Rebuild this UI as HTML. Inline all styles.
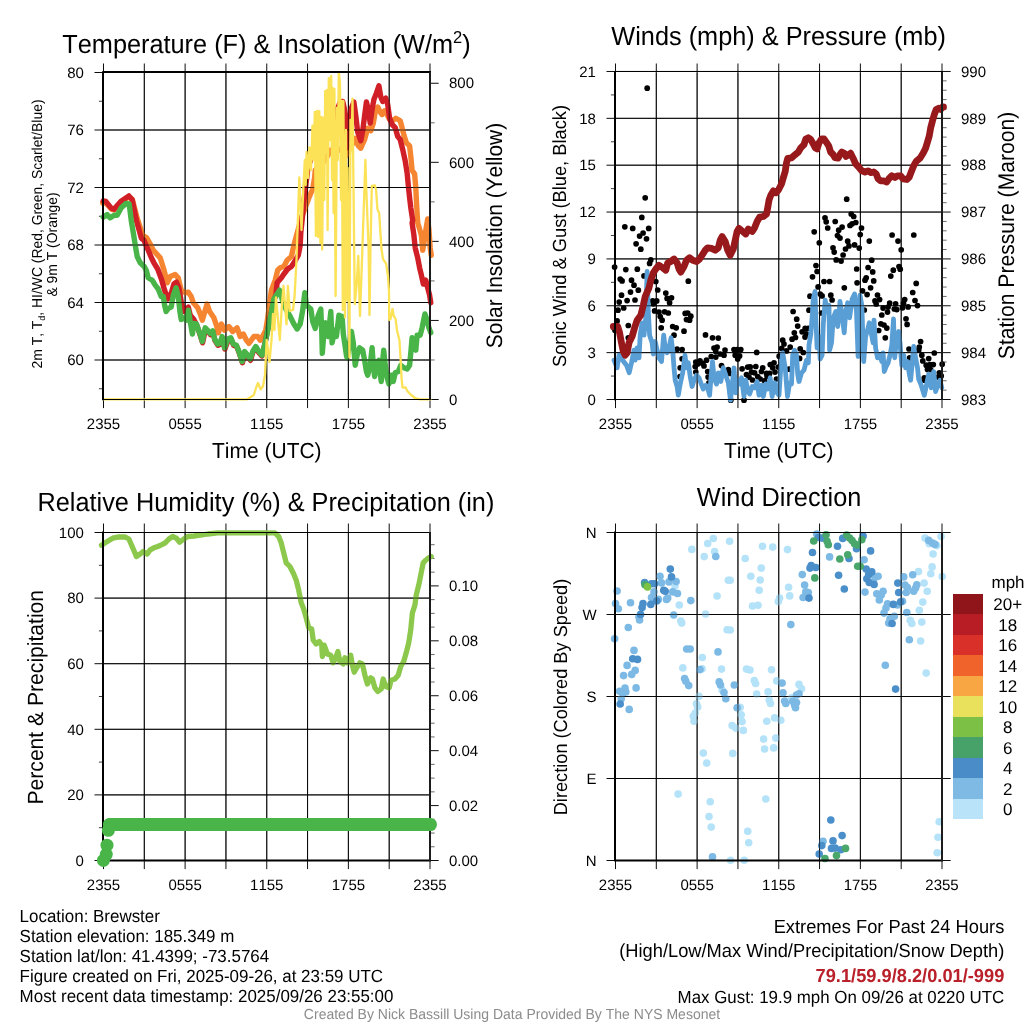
<!DOCTYPE html>
<html lang="en"><head><meta charset="utf-8"><title>Brewster Meteogram</title>
<style>
html,body{margin:0;padding:0;background:#fff}
body{width:1024px;height:1024px;overflow:hidden}
svg{display:block}
text{font-family:"Liberation Sans", sans-serif;fill:#000;font-kerning:none;text-rendering:geometricPrecision}
.grid{stroke:#000;stroke-width:.95;fill:none}
.tick{stroke:#000;stroke-width:.95;fill:none}
.mtick{stroke:#000;stroke-width:.75;fill:none}
.rtick{stroke:#000;stroke-width:.7;fill:none;opacity:.85}
.fr{stroke:#000;fill:none}
.ln{fill:none;stroke-linejoin:round;stroke-linecap:round}
</style></head><body>
<svg width="1024" height="1024" viewBox="0 0 1024 1024">
<rect width="1024" height="1024" fill="#fff"/>
<g id="p1">
<path class="grid" d="M144.31 72.50V399.50M185.12 72.50V399.50M225.94 72.50V399.50M266.75 72.50V399.50M307.56 72.50V399.50M348.38 72.50V399.50M389.19 72.50V399.50M103.50 130.00H430.00M103.50 187.50H430.00M103.50 245.00H430.00M103.50 302.50H430.00M103.50 360.00H430.00"/>
<path class="tick" d="M103.50 72.50v-9M103.50 399.50v8.6M144.31 72.50v-9M144.31 399.50v8.6M185.12 72.50v-9M185.12 399.50v8.6M225.94 72.50v-9M225.94 399.50v8.6M266.75 72.50v-9M266.75 399.50v8.6M307.56 72.50v-9M307.56 399.50v8.6M348.38 72.50v-9M348.38 399.50v8.6M389.19 72.50v-9M389.19 399.50v8.6M430.00 72.50v-9M430.00 399.50v8.6M103.50 72.50h-9M103.50 130.00h-9M103.50 187.50h-9M103.50 245.00h-9M103.50 302.50h-9M103.50 360.00h-9M430.00 83.26h8.7M430.00 162.32h8.7M430.00 241.38h8.7M430.00 320.44h8.7M430.00 399.50h8.7"/>
<path class="mtick" d="M103.50 101.25h-4.6M103.50 158.75h-4.6M103.50 216.25h-4.6M103.50 273.75h-4.6M103.50 331.25h-4.6M103.50 388.75h-4.6"/>
<path class="rtick" d="M430.00 359.97h4.6M430.00 280.91h4.6M430.00 201.85h4.6M430.00 122.79h4.6"/>
<path class="ln" d="M102.7 203.0L105.8 203.0L111.5 209.2L114.0 210.0L120.8 202.1L128.9 196.8L132.4 199.6L137.2 218.4L142.7 235.2L146.7 237.8L150.2 244.0L153.2 250.2L160.2 257.8L163.7 269.0L167.2 282.8L170.2 276.5L175.2 274.6L178.2 277.8L181.2 290.2L185.2 292.8L188.2 292.1L191.2 296.5L193.3 302.8L197.7 307.8L200.2 314.0L202.3 320.2L205.2 310.2L207.1 304.0L209.6 311.5L213.9 317.8L216.4 325.2L218.3 332.8L221.4 324.0L224.6 330.2L228.9 326.5L232.7 331.5L237.1 327.8L240.2 336.5L243.3 334.0L246.4 340.2L248.9 343.4L253.9 336.5L257.7 336.5L260.2 340.2L263.3 335.2L265.8 330.2L267.7 317.8L271.4 290.2L275.2 280.2L277.7 270.2L280.2 267.8L283.9 266.5L287.1 260.2L291.4 256.5L293.3 247.8L295.2 240.2L298.3 229.0L301.4 217.8L305.2 207.8L308.9 197.8L312.7 189.0L314.6 177.8L315.2 170.2L318.0 168.0L321.0 165.0L325.0 160.0L328.0 155.0L331.0 150.0L334.0 150.0L336.0 152.0L340.0 149.0L343.0 151.0L345.8 155.8L350.2 148.2L355.2 138.2L358.3 145.8L360.8 148.2L364.6 139.5L367.7 128.2L370.8 130.8L373.3 123.2L375.2 112.0L377.7 107.0L380.2 112.0L382.1 114.5L384.6 110.8L387.1 114.5L389.6 119.5L392.7 120.8L395.8 118.2L400.2 120.8L402.1 127.8L403.9 135.2L406.4 142.8L409.6 145.9L410.8 156.5L412.1 170.2L414.6 174.0L415.8 187.8L416.4 200.2L417.1 212.8L417.7 222.8L419.6 229.0L421.4 235.2L422.7 250.2L424.6 239.0L426.2 227.8L427.7 219.0L428.9 229.0L430.2 247.8L431.2 255.2" stroke="#f68532" stroke-width="5.4"/>
<path class="ln" d="M103.2 200.9L105.8 201.5L111.5 208.4L114.0 209.2L120.8 201.5L128.9 195.9L132.1 199.6L136.4 220.2L141.4 238.4L143.9 240.2L147.7 249.0L151.4 257.8L153.9 262.8L157.7 269.0L161.4 279.0L164.6 290.2L167.9 299.0L171.4 292.8L173.9 284.0L176.4 282.1L178.9 287.8L181.4 302.8L183.7 311.5L188.3 307.1L190.2 315.2L193.9 319.6L196.8 325.3L199.9 334.1L202.6 342.8L205.5 329.1L208.6 332.2L210.5 334.7L213.0 332.2L214.9 340.3L218.0 345.3L220.5 344.1L222.4 337.8L224.9 349.1L228.0 340.3L231.1 339.1L233.6 345.3L236.8 346.6L239.2 352.8L242.4 362.8L244.9 352.8L248.0 356.6L250.5 360.3L252.8 352.5L255.6 347.5L258.8 352.5L261.9 356.0L264.4 346.0L267.5 331.0L270.5 316.0L273.5 302.0L275.8 295.2L277.1 282.8L281.4 277.8L283.9 274.0L287.7 269.0L291.4 266.5L293.9 262.8L298.3 255.2L300.2 245.2L300.8 232.8L302.1 220.2L303.9 201.5L305.8 185.2L307.7 170.2L308.0 168.0L311.2 158.0L314.0 152.0L317.0 150.0L320.0 146.0L323.0 142.0L325.0 130.5L327.0 124.0L330.0 118.0L333.0 122.0L335.0 128.0L336.2 112.0L340.2 102.0L342.7 101.4L344.6 109.5L345.8 130.8L346.4 148.2L348.3 130.8L350.8 109.5L353.9 102.0L355.8 115.8L357.7 132.0L360.8 140.8L362.7 130.8L364.6 115.8L366.4 102.0L368.3 109.5L370.2 123.2L372.1 109.5L373.9 99.5L376.4 93.2L378.9 85.8L380.8 97.0L382.7 101.4L385.8 98.2L387.7 104.5L389.6 118.2L392.1 124.5L395.2 127.6L397.7 136.4L400.2 139.5L402.7 149.5L405.2 160.8L407.1 172.8L408.3 185.2L409.6 197.8L410.8 207.8L412.7 220.2L412.1 222.8L413.9 235.2L415.2 247.8L417.7 257.8L419.6 267.8L421.4 275.2L423.3 284.0L425.8 280.2L427.7 287.8L429.6 295.2L430.8 302.8" stroke="#d11f27" stroke-width="5.4"/>
<path class="ln" d="M103.2 217.1L107.2 214.6L110.2 217.8L114.2 215.2L117.2 215.2L121.2 207.8L126.2 203.4L129.2 204.0L131.2 220.2L133.7 235.2L135.7 247.8L137.2 256.5L140.2 262.8L144.2 266.5L146.2 270.2L148.2 277.8L152.2 280.2L155.2 285.2L158.2 289.0L161.2 296.5L163.3 296.5L164.6 305.2L166.1 311.5L168.3 308.4L171.2 307.1L173.3 295.2L176.1 287.8L178.3 296.5L179.9 311.5L181.2 319.6L183.9 317.8L186.4 320.2L188.3 310.2L190.2 321.5L192.4 334.0L193.9 323.4L196.4 324.0L199.6 332.8L202.3 341.5L205.2 327.8L208.3 330.9L210.2 333.4L212.7 330.9L214.6 339.0L217.7 344.0L220.2 342.8L222.1 336.5L224.6 347.8L227.7 339.0L230.8 337.8L233.3 344.0L236.4 345.2L238.9 351.5L242.1 361.5L244.6 351.5L247.7 355.2L250.2 359.0L252.7 351.5L255.8 346.5L258.9 351.5L262.1 355.2L264.6 345.2L267.7 330.2L270.8 315.2L273.9 299.0L279.6 290.2L282.7 301.5L286.4 310.2L290.2 316.5L293.9 324.0L297.1 329.0L300.2 324.0L302.7 310.2L304.8 292.8L306.4 305.2L310.8 309.0L312.7 321.5L315.2 328.4L318.3 315.2L320.8 309.0L321.7 330.2L322.3 353.4L323.9 332.8L325.8 322.8L328.3 336.5L330.8 311.5L332.1 342.8L334.6 330.2L336.4 336.5L338.9 315.2L342.1 316.5L343.3 334.0L345.2 346.5L346.4 355.2L347.1 357.8L350.2 340.2L351.4 331.5L353.3 342.8L355.2 365.2L357.1 355.2L359.6 347.8L362.7 350.2L364.6 360.2L366.4 371.5L367.7 375.2L370.2 365.2L372.1 347.8L373.3 365.2L374.6 376.5L377.1 365.2L378.9 360.2L381.2 381.5L382.7 360.2L383.7 350.2L385.2 365.2L387.1 377.8L388.9 384.0L391.4 375.2L393.3 381.5L395.2 372.8L398.3 371.5L400.8 365.2L403.9 367.8L407.1 369.0L409.6 365.2L410.8 352.8L412.1 337.8L413.9 342.8L415.8 350.2L417.1 335.2L420.2 335.2L422.1 327.8L424.9 314.0L427.1 320.2L428.9 327.8L430.8 332.8" stroke="#49b549" stroke-width="5.4"/>
<path class="grid" opacity=".7" d="M144.31 72.50V399.50M185.12 72.50V399.50M225.94 72.50V399.50M266.75 72.50V399.50M307.56 72.50V399.50M348.38 72.50V399.50M389.19 72.50V399.50M103.50 130.00H430.00M103.50 187.50H430.00M103.50 245.00H430.00M103.50 302.50H430.00M103.50 360.00H430.00"/>
<path class="ln" d="M103.3 399.3L247.0 399.3L250.0 397.5L253.8 395.0L256.2 387.5L258.0 383.0L260.6 389.4L263.0 386.2L265.0 375.0L266.7 340.0L269.5 362.0L271.5 340.0L273.0 314.0L274.4 330.0L276.0 297.5L279.8 340.0L281.9 305.0L283.5 286.0L286.5 324.4L287.9 286.0L289.8 311.0L293.0 310.0L294.6 296.0L296.5 260.0L299.3 177.5L301.5 230.0L303.5 185.0L304.8 160.0L305.7 185.0L306.6 152.0L308.0 178.0L309.4 147.5L311.0 170.0L312.5 125.6L313.6 160.0L314.8 112.0L315.9 236.0L317.0 111.0L318.2 237.0L319.3 111.0L320.4 243.0L321.6 117.0L322.2 249.5L323.4 118.0L324.3 200.0L325.2 91.0L326.3 150.0L327.0 90.0L327.6 230.0L328.8 78.0L330.0 140.0L331.2 76.0L332.0 180.0L332.6 88.0L333.6 213.0L334.4 89.0L335.6 296.0L337.0 108.0L337.8 160.0L338.8 72.5L340.0 83.0L341.0 200.0L341.8 101.0L342.8 310.0L343.4 101.0L345.0 317.5L346.0 130.0L347.0 300.0L347.6 168.0L349.4 357.5L350.5 120.0L351.5 150.0L352.5 98.6L354.8 304.0L356.6 285.0L358.3 256.0L360.0 316.0L362.4 248.0L365.4 160.0L366.1 184.0L368.6 248.0L369.5 315.0L370.5 248.0L371.8 186.0L374.9 185.5L376.1 190.0L377.4 209.0L379.2 213.4L381.4 248.0L383.0 259.2L386.1 263.6L388.0 276.0L389.0 291.8L389.2 320.0L390.6 318.8L392.5 308.8L393.8 316.2L395.6 318.8L396.9 330.0L399.4 340.0L400.6 358.8L401.5 377.5L402.5 387.5L405.6 387.5L407.5 391.2L411.2 395.0L415.0 398.0L420.0 399.4L430.3 399.4" stroke="#fbe256" stroke-width="2.3"/>
<path class="fr" stroke-width="2" d="M102.50 72.00H431.00"/>
<path class="fr" stroke-width="1.1" d="M103.50 399.50H430.00"/>
<path class="fr" stroke-width="2" style="stroke:#1c1c1c" d="M430.00 72.00V400.00"/>
<path class="fr" stroke-width="2" d="M103.00 71.50V400.30"/>
<text transform="translate(83.90 77.70) scale(1.0 1.0)" font-size="15.0" text-anchor="end">80</text>
<text transform="translate(83.90 135.20) scale(1.0 1.0)" font-size="15.0" text-anchor="end">76</text>
<text transform="translate(83.90 192.70) scale(1.0 1.0)" font-size="15.0" text-anchor="end">72</text>
<text transform="translate(83.90 250.20) scale(1.0 1.0)" font-size="15.0" text-anchor="end">68</text>
<text transform="translate(83.90 307.70) scale(1.0 1.0)" font-size="15.0" text-anchor="end">64</text>
<text transform="translate(83.90 365.20) scale(1.0 1.0)" font-size="15.0" text-anchor="end">60</text>
<text transform="translate(449.00 88.46) scale(1.0 1.0)" font-size="15.0">800</text>
<text transform="translate(449.00 167.52) scale(1.0 1.0)" font-size="15.0">600</text>
<text transform="translate(449.00 246.58) scale(1.0 1.0)" font-size="15.0">400</text>
<text transform="translate(449.00 325.64) scale(1.0 1.0)" font-size="15.0">200</text>
<text transform="translate(449.00 404.70) scale(1.0 1.0)" font-size="15.0">0</text>
<text transform="translate(103.50 429.40) scale(1.0 1.0)" font-size="15.0" text-anchor="middle">2355</text>
<text transform="translate(185.12 429.40) scale(1.0 1.0)" font-size="15.0" text-anchor="middle">0555</text>
<text transform="translate(266.75 429.40) scale(1.0 1.0)" font-size="15.0" text-anchor="middle">1155</text>
<text transform="translate(348.38 429.40) scale(1.0 1.0)" font-size="15.0" text-anchor="middle">1755</text>
<text transform="translate(430.00 429.40) scale(1.0 1.0)" font-size="15.0" text-anchor="middle">2355</text>
</g>
<g id="p2">
<path class="grid" d="M656.31 72.50V399.50M697.12 72.50V399.50M737.94 72.50V399.50M778.75 72.50V399.50M819.56 72.50V399.50M860.38 72.50V399.50M901.19 72.50V399.50M615.50 71.48H942.00M615.50 118.34H942.00M615.50 165.20H942.00M615.50 212.06H942.00M615.50 258.92H942.00M615.50 305.78H942.00M615.50 352.64H942.00"/>
<path class="tick" d="M615.50 72.50v-9M615.50 399.50v8.6M656.31 72.50v-9M656.31 399.50v8.6M697.12 72.50v-9M697.12 399.50v8.6M737.94 72.50v-9M737.94 399.50v8.6M778.75 72.50v-9M778.75 399.50v8.6M819.56 72.50v-9M819.56 399.50v8.6M860.38 72.50v-9M860.38 399.50v8.6M901.19 72.50v-9M901.19 399.50v8.6M942.00 72.50v-9M942.00 399.50v8.6M615.50 71.48h-9M615.50 118.34h-9M615.50 165.20h-9M615.50 212.06h-9M615.50 258.92h-9M615.50 305.78h-9M615.50 352.64h-9M615.50 399.50h-9M942.00 71.48h8.7M942.00 118.34h8.7M942.00 165.20h8.7M942.00 212.06h8.7M942.00 258.92h8.7M942.00 305.78h8.7M942.00 352.64h8.7M942.00 399.50h8.7"/>
<path class="mtick" d="M615.50 94.91h-4.6M615.50 141.77h-4.6M615.50 188.63h-4.6M615.50 235.49h-4.6M615.50 282.35h-4.6M615.50 329.21h-4.6M615.50 376.07h-4.6"/>
<path class="rtick" d="M942.00 390.13h4.6M942.00 380.76h4.6M942.00 371.38h4.6M942.00 362.01h4.6M942.00 343.27h4.6M942.00 333.90h4.6M942.00 324.52h4.6M942.00 315.15h4.6M942.00 296.41h4.6M942.00 287.04h4.6M942.00 277.66h4.6M942.00 268.29h4.6M942.00 249.55h4.6M942.00 240.18h4.6M942.00 230.80h4.6M942.00 221.43h4.6M942.00 202.69h4.6M942.00 193.32h4.6M942.00 183.94h4.6M942.00 174.57h4.6M942.00 155.83h4.6M942.00 146.46h4.6M942.00 137.08h4.6M942.00 127.71h4.6M942.00 108.97h4.6M942.00 99.60h4.6M942.00 90.22h4.6M942.00 80.85h4.6"/>
<g fill="#000"><circle cx="647.2" cy="88.2" r="2.85"/><circle cx="913.8" cy="235.0" r="2.85"/><circle cx="622.1" cy="280.9" r="2.85"/><circle cx="631.5" cy="280.2" r="2.85"/><circle cx="634.0" cy="285.2" r="2.85"/><circle cx="638.3" cy="290.2" r="2.85"/><circle cx="630.5" cy="292.1" r="2.85"/><circle cx="621.5" cy="295.2" r="2.85"/><circle cx="627.1" cy="300.6" r="2.85"/><circle cx="635.0" cy="300.0" r="2.85"/><circle cx="619.2" cy="302.1" r="2.85"/><circle cx="623.7" cy="308.0" r="2.85"/><circle cx="618.0" cy="310.2" r="2.85"/><circle cx="617.1" cy="320.9" r="2.85"/><circle cx="628.3" cy="325.5" r="2.85"/><circle cx="615.0" cy="330.2" r="2.85"/><circle cx="628.3" cy="337.8" r="2.85"/><circle cx="655.8" cy="281.5" r="2.85"/><circle cx="688.3" cy="281.2" r="2.85"/><circle cx="657.7" cy="290.0" r="2.85"/><circle cx="665.8" cy="293.1" r="2.85"/><circle cx="671.5" cy="297.8" r="2.85"/><circle cx="667.1" cy="298.4" r="2.85"/><circle cx="652.7" cy="300.9" r="2.85"/><circle cx="656.7" cy="300.9" r="2.85"/><circle cx="669.6" cy="302.8" r="2.85"/><circle cx="653.3" cy="303.8" r="2.85"/><circle cx="654.6" cy="310.9" r="2.85"/><circle cx="659.0" cy="312.1" r="2.85"/><circle cx="664.6" cy="311.8" r="2.85"/><circle cx="668.3" cy="313.0" r="2.85"/><circle cx="660.2" cy="316.5" r="2.85"/><circle cx="662.1" cy="320.2" r="2.85"/><circle cx="661.2" cy="327.8" r="2.85"/><circle cx="685.2" cy="313.4" r="2.85"/><circle cx="687.7" cy="313.0" r="2.85"/><circle cx="690.8" cy="316.2" r="2.85"/><circle cx="686.5" cy="319.6" r="2.85"/><circle cx="689.6" cy="320.2" r="2.85"/><circle cx="672.7" cy="326.5" r="2.85"/><circle cx="676.2" cy="327.8" r="2.85"/><circle cx="684.0" cy="331.2" r="2.85"/><circle cx="674.0" cy="335.2" r="2.85"/><circle cx="705.5" cy="334.9" r="2.85"/><circle cx="712.5" cy="337.8" r="2.85"/><circle cx="718.3" cy="338.1" r="2.85"/><circle cx="677.1" cy="349.2" r="2.85"/><circle cx="682.1" cy="349.6" r="2.85"/><circle cx="682.1" cy="358.8" r="2.85"/><circle cx="680.2" cy="367.8" r="2.85"/><circle cx="680.0" cy="376.5" r="2.85"/><circle cx="714.0" cy="348.1" r="2.85"/><circle cx="717.1" cy="347.1" r="2.85"/><circle cx="715.8" cy="351.5" r="2.85"/><circle cx="725.0" cy="350.0" r="2.85"/><circle cx="720.2" cy="354.0" r="2.85"/><circle cx="724.0" cy="355.2" r="2.85"/><circle cx="711.2" cy="356.5" r="2.85"/><circle cx="715.8" cy="357.1" r="2.85"/><circle cx="734.0" cy="349.6" r="2.85"/><circle cx="737.1" cy="349.6" r="2.85"/><circle cx="735.2" cy="355.2" r="2.85"/><circle cx="737.7" cy="359.0" r="2.85"/><circle cx="695.8" cy="362.1" r="2.85"/><circle cx="700.0" cy="360.9" r="2.85"/><circle cx="697.7" cy="364.0" r="2.85"/><circle cx="702.7" cy="363.4" r="2.85"/><circle cx="706.5" cy="360.2" r="2.85"/><circle cx="695.2" cy="366.5" r="2.85"/><circle cx="704.0" cy="365.9" r="2.85"/><circle cx="695.8" cy="372.1" r="2.85"/><circle cx="707.7" cy="371.5" r="2.85"/><circle cx="708.1" cy="377.1" r="2.85"/><circle cx="709.0" cy="382.8" r="2.85"/><circle cx="721.5" cy="365.6" r="2.85"/><circle cx="728.3" cy="369.6" r="2.85"/><circle cx="729.6" cy="373.4" r="2.85"/><circle cx="740.8" cy="349.6" r="2.85"/><circle cx="739.6" cy="355.9" r="2.85"/><circle cx="756.7" cy="352.4" r="2.85"/><circle cx="742.1" cy="368.8" r="2.85"/><circle cx="747.7" cy="367.1" r="2.85"/><circle cx="750.2" cy="366.9" r="2.85"/><circle cx="755.8" cy="366.5" r="2.85"/><circle cx="762.7" cy="367.8" r="2.85"/><circle cx="751.5" cy="372.1" r="2.85"/><circle cx="754.6" cy="372.8" r="2.85"/><circle cx="761.5" cy="371.5" r="2.85"/><circle cx="746.5" cy="374.6" r="2.85"/><circle cx="749.0" cy="377.1" r="2.85"/><circle cx="757.7" cy="376.5" r="2.85"/><circle cx="752.5" cy="380.0" r="2.85"/><circle cx="760.2" cy="379.0" r="2.85"/><circle cx="766.5" cy="373.4" r="2.85"/><circle cx="769.6" cy="373.4" r="2.85"/><circle cx="767.1" cy="376.5" r="2.85"/><circle cx="764.6" cy="380.9" r="2.85"/><circle cx="770.2" cy="364.6" r="2.85"/><circle cx="774.0" cy="362.8" r="2.85"/><circle cx="772.7" cy="367.8" r="2.85"/><circle cx="778.3" cy="367.1" r="2.85"/><circle cx="775.0" cy="372.1" r="2.85"/><circle cx="776.5" cy="379.0" r="2.85"/><circle cx="744.0" cy="400.2" r="2.85"/><circle cx="730.8" cy="400.2" r="2.85"/><circle cx="779.2" cy="356.2" r="2.85"/><circle cx="781.7" cy="348.4" r="2.85"/><circle cx="782.7" cy="340.2" r="2.85"/><circle cx="784.0" cy="344.0" r="2.85"/><circle cx="786.5" cy="350.9" r="2.85"/><circle cx="790.2" cy="347.1" r="2.85"/><circle cx="789.0" cy="369.2" r="2.85"/><circle cx="799.6" cy="358.4" r="2.85"/><circle cx="800.2" cy="348.8" r="2.85"/><circle cx="803.3" cy="352.5" r="2.85"/><circle cx="792.1" cy="339.2" r="2.85"/><circle cx="795.5" cy="337.5" r="2.85"/><circle cx="794.3" cy="332.8" r="2.85"/><circle cx="802.1" cy="331.8" r="2.85"/><circle cx="805.0" cy="337.1" r="2.85"/><circle cx="806.2" cy="333.8" r="2.85"/><circle cx="805.2" cy="328.4" r="2.85"/><circle cx="808.3" cy="328.4" r="2.85"/><circle cx="797.7" cy="326.1" r="2.85"/><circle cx="796.7" cy="319.2" r="2.85"/><circle cx="793.1" cy="311.5" r="2.85"/><circle cx="809.0" cy="310.2" r="2.85"/><circle cx="810.0" cy="296.2" r="2.85"/><circle cx="818.1" cy="286.9" r="2.85"/><circle cx="820.2" cy="294.0" r="2.85"/><circle cx="822.1" cy="295.9" r="2.85"/><circle cx="824.0" cy="281.5" r="2.85"/><circle cx="829.6" cy="281.5" r="2.85"/><circle cx="830.8" cy="295.2" r="2.85"/><circle cx="832.1" cy="300.0" r="2.85"/><circle cx="844.3" cy="287.8" r="2.85"/><circle cx="857.1" cy="282.8" r="2.85"/><circle cx="821.5" cy="313.0" r="2.85"/><circle cx="865.0" cy="280.2" r="2.85"/><circle cx="873.7" cy="280.9" r="2.85"/><circle cx="870.6" cy="287.8" r="2.85"/><circle cx="862.5" cy="290.9" r="2.85"/><circle cx="867.1" cy="294.6" r="2.85"/><circle cx="877.5" cy="295.0" r="2.85"/><circle cx="879.6" cy="299.6" r="2.85"/><circle cx="875.0" cy="300.9" r="2.85"/><circle cx="876.2" cy="304.0" r="2.85"/><circle cx="864.3" cy="310.0" r="2.85"/><circle cx="883.1" cy="308.1" r="2.85"/><circle cx="888.1" cy="307.1" r="2.85"/><circle cx="889.7" cy="303.1" r="2.85"/><circle cx="895.6" cy="303.8" r="2.85"/><circle cx="894.3" cy="309.0" r="2.85"/><circle cx="896.8" cy="309.6" r="2.85"/><circle cx="887.5" cy="312.1" r="2.85"/><circle cx="881.8" cy="315.0" r="2.85"/><circle cx="902.5" cy="307.8" r="2.85"/><circle cx="903.5" cy="303.4" r="2.85"/><circle cx="904.7" cy="299.6" r="2.85"/><circle cx="908.1" cy="306.9" r="2.85"/><circle cx="915.0" cy="300.5" r="2.85"/><circle cx="917.5" cy="305.6" r="2.85"/><circle cx="912.7" cy="292.5" r="2.85"/><circle cx="916.2" cy="283.4" r="2.85"/><circle cx="906.0" cy="318.8" r="2.85"/><circle cx="907.1" cy="324.4" r="2.85"/><circle cx="880.8" cy="323.8" r="2.85"/><circle cx="884.0" cy="325.0" r="2.85"/><circle cx="886.8" cy="328.1" r="2.85"/><circle cx="878.7" cy="330.5" r="2.85"/><circle cx="885.3" cy="337.8" r="2.85"/><circle cx="920.6" cy="341.5" r="2.85"/><circle cx="919.3" cy="347.1" r="2.85"/><circle cx="918.7" cy="350.2" r="2.85"/><circle cx="909.0" cy="349.0" r="2.85"/><circle cx="909.7" cy="357.8" r="2.85"/><circle cx="921.8" cy="355.2" r="2.85"/><circle cx="934.3" cy="353.0" r="2.85"/><circle cx="928.7" cy="358.6" r="2.85"/><circle cx="922.8" cy="360.9" r="2.85"/><circle cx="926.2" cy="365.2" r="2.85"/><circle cx="930.0" cy="364.6" r="2.85"/><circle cx="933.3" cy="364.6" r="2.85"/><circle cx="927.5" cy="369.6" r="2.85"/><circle cx="930.6" cy="369.6" r="2.85"/><circle cx="942.2" cy="364.2" r="2.85"/><circle cx="939.3" cy="372.8" r="2.85"/><circle cx="941.2" cy="375.9" r="2.85"/><circle cx="938.1" cy="377.1" r="2.85"/><circle cx="924.3" cy="377.8" r="2.85"/><circle cx="924.3" cy="380.2" r="2.85"/><circle cx="645.2" cy="197.8" r="2.85"/><circle cx="641.8" cy="217.4" r="2.85"/><circle cx="624.8" cy="226.8" r="2.85"/><circle cx="632.7" cy="228.4" r="2.85"/><circle cx="648.7" cy="228.4" r="2.85"/><circle cx="643.1" cy="233.0" r="2.85"/><circle cx="639.6" cy="236.1" r="2.85"/><circle cx="646.5" cy="238.8" r="2.85"/><circle cx="636.1" cy="243.8" r="2.85"/><circle cx="640.8" cy="249.2" r="2.85"/><circle cx="650.8" cy="259.9" r="2.85"/><circle cx="649.6" cy="263.4" r="2.85"/><circle cx="614.6" cy="267.1" r="2.85"/><circle cx="625.8" cy="269.6" r="2.85"/><circle cx="637.3" cy="269.2" r="2.85"/><circle cx="644.0" cy="275.9" r="2.85"/><circle cx="620.2" cy="279.0" r="2.85"/><circle cx="846.7" cy="199.2" r="2.85"/><circle cx="851.2" cy="214.0" r="2.85"/><circle cx="853.7" cy="216.5" r="2.85"/><circle cx="825.0" cy="217.8" r="2.85"/><circle cx="826.2" cy="221.8" r="2.85"/><circle cx="835.2" cy="221.5" r="2.85"/><circle cx="855.8" cy="222.5" r="2.85"/><circle cx="852.1" cy="223.8" r="2.85"/><circle cx="850.0" cy="225.5" r="2.85"/><circle cx="842.1" cy="227.1" r="2.85"/><circle cx="827.7" cy="228.0" r="2.85"/><circle cx="838.7" cy="230.2" r="2.85"/><circle cx="861.5" cy="228.0" r="2.85"/><circle cx="814.2" cy="231.8" r="2.85"/><circle cx="860.2" cy="234.6" r="2.85"/><circle cx="837.5" cy="235.6" r="2.85"/><circle cx="840.0" cy="238.1" r="2.85"/><circle cx="892.1" cy="235.0" r="2.85"/><circle cx="898.0" cy="241.1" r="2.85"/><circle cx="869.3" cy="241.1" r="2.85"/><circle cx="847.7" cy="241.2" r="2.85"/><circle cx="819.3" cy="242.8" r="2.85"/><circle cx="854.6" cy="244.9" r="2.85"/><circle cx="849.0" cy="245.9" r="2.85"/><circle cx="859.2" cy="248.1" r="2.85"/><circle cx="833.0" cy="247.8" r="2.85"/><circle cx="845.5" cy="249.0" r="2.85"/><circle cx="901.2" cy="249.8" r="2.85"/><circle cx="834.2" cy="252.1" r="2.85"/><circle cx="843.1" cy="255.0" r="2.85"/><circle cx="836.2" cy="259.9" r="2.85"/><circle cx="841.1" cy="261.1" r="2.85"/><circle cx="871.7" cy="260.2" r="2.85"/><circle cx="816.0" cy="265.6" r="2.85"/><circle cx="868.1" cy="267.5" r="2.85"/><circle cx="856.7" cy="269.0" r="2.85"/><circle cx="899.0" cy="266.5" r="2.85"/><circle cx="900.2" cy="269.2" r="2.85"/><circle cx="893.3" cy="270.2" r="2.85"/><circle cx="817.1" cy="271.5" r="2.85"/><circle cx="872.7" cy="271.9" r="2.85"/><circle cx="812.5" cy="276.8" r="2.85"/><circle cx="890.8" cy="276.1" r="2.85"/><circle cx="866.2" cy="277.8" r="2.85"/></g>
<path class="ln" d="M614.0 360.2L617.1 367.8L619.0 355.2L622.7 360.2L626.5 365.2L629.2 372.8L631.5 362.8L634.0 350.2L635.2 360.2L637.1 347.8L639.0 357.8L640.2 335.2L642.1 322.8L644.0 335.2L645.8 317.8L647.1 271.5L648.3 311.5L649.6 335.2L652.1 342.8L653.3 354.0L655.2 341.5L657.1 350.2L659.0 357.8L661.5 361.5L663.7 335.2L665.2 347.8L667.1 352.8L669.0 347.8L671.1 337.8L672.7 350.2L674.0 367.8L675.2 380.2L677.1 386.5L678.3 395.2L680.2 384.0L682.7 372.8L685.0 355.2L686.5 367.8L688.3 362.8L690.2 376.5L692.1 386.5L694.0 380.2L696.5 375.2L699.0 377.8L700.8 382.8L703.3 389.0L705.8 385.2L707.7 387.8L709.6 395.2L710.8 380.2L712.5 361.5L714.0 377.8L716.5 384.0L718.3 372.8L720.8 381.5L723.3 367.8L725.8 375.2L728.3 382.8L730.5 400.2L732.1 386.5L734.0 367.8L735.8 392.8L737.7 380.2L739.6 384.0L741.5 377.8L744.0 396.5L745.8 380.2L747.7 390.2L749.6 394.0L752.1 386.5L754.6 387.8L757.1 381.5L759.0 395.2L761.5 385.2L763.3 396.5L765.8 384.0L767.7 389.0L770.2 377.8L772.1 396.5L774.6 382.8L777.1 392.8L779.0 395.2L780.8 367.8L782.7 352.8L785.2 367.8L787.5 396.5L789.6 382.8L791.5 384.0L792.7 355.2L794.6 350.2L796.5 355.2L797.7 374.0L799.0 381.5L801.5 372.8L804.0 370.2L806.5 360.2L808.3 362.8L809.0 345.2L810.8 334.0L812.1 317.8L813.3 299.0L815.0 291.5L815.8 317.8L817.1 347.8L819.0 336.5L820.2 359.0L822.1 355.2L823.3 324.0L825.2 300.2L827.1 311.5L829.0 305.2L829.6 350.2L831.5 342.8L833.3 317.8L835.8 311.5L837.7 326.5L840.0 301.5L842.1 315.2L844.2 332.8L845.8 311.5L847.7 302.8L849.6 317.8L852.1 299.0L854.6 294.0L856.5 311.5L858.1 356.5L860.0 295.2L861.8 305.2L863.7 361.5L865.6 336.5L867.5 330.2L869.3 322.8L871.2 332.8L873.1 342.8L874.0 320.2L875.6 347.8L877.5 357.8L880.0 355.2L881.8 361.5L883.1 352.8L884.3 371.5L886.2 366.5L888.1 362.8L890.0 355.2L891.8 345.2L893.5 319.0L894.7 357.8L896.2 342.8L898.7 331.5L900.0 342.8L901.8 365.2L903.7 355.2L905.6 367.8L907.5 361.5L909.3 374.0L910.6 380.2L912.5 360.2L913.7 346.5L915.6 357.8L917.5 367.8L918.7 379.0L921.2 385.2L924.3 395.2L926.2 386.5L928.7 374.0L931.2 387.8L933.7 371.5L935.6 391.5L938.1 384.0L940.0 380.2L941.8 387.8" stroke="#5a9ed6" stroke-width="4.8"/>
<path class="grid" opacity=".7" d="M656.31 72.50V399.50M697.12 72.50V399.50M737.94 72.50V399.50M778.75 72.50V399.50M819.56 72.50V399.50M860.38 72.50V399.50M901.19 72.50V399.50M615.50 71.48H942.00M615.50 118.34H942.00M615.50 165.20H942.00M615.50 212.06H942.00M615.50 258.92H942.00M615.50 305.78H942.00M615.50 352.64H942.00"/>
<path class="ln" d="M613.3 326.5L617.7 326.5L619.6 332.8L621.5 342.8L623.3 351.5L625.2 355.2L627.1 352.8L629.0 342.8L632.1 336.5L634.6 327.8L637.1 320.2L640.8 315.2L643.3 305.2L645.2 296.5L649.0 287.8L650.8 280.2L653.3 272.8L655.8 269.0L659.0 265.2L662.7 267.8L665.8 270.2L667.7 262.8L670.8 261.5L674.0 259.0L677.1 262.8L679.0 269.0L680.8 272.1L684.0 266.5L686.5 260.2L689.6 257.8L692.7 260.2L696.5 261.5L699.6 259.0L702.1 255.2L705.2 250.2L707.7 247.8L711.5 248.4L715.2 250.2L718.3 247.8L720.2 240.2L722.1 236.5L725.2 241.5L727.7 250.2L730.2 255.2L733.3 249.0L735.2 240.2L737.1 231.5L739.0 228.4L742.7 231.5L745.8 234.0L748.3 229.0L752.1 231.5L754.6 227.8L757.1 221.5L759.6 217.1L763.3 216.5L766.5 214.0L767.7 207.8L769.0 200.2L770.8 195.2L773.3 190.9L775.8 192.8L778.3 190.2L781.5 184.0L783.3 177.8L785.2 171.5L786.5 162.8L787.7 158.4L791.5 157.8L794.6 155.2L798.3 152.1L800.8 147.8L804.0 144.6L805.8 139.0L808.3 137.8L810.8 139.6L813.3 144.0L815.2 147.8L817.1 149.0L819.0 142.8L821.5 139.0L824.0 139.0L827.1 143.4L828.7 145.8L830.6 152.0L833.1 154.5L835.0 157.6L838.1 158.2L840.0 154.5L841.8 152.0L844.3 153.2L846.2 156.4L848.7 154.5L850.6 153.2L853.1 158.2L855.6 163.9L858.7 167.0L861.8 170.8L865.0 172.0L868.1 170.8L870.6 172.6L873.7 172.0L876.2 173.9L878.1 178.9L880.6 180.8L883.7 180.8L886.8 182.0L889.3 178.2L891.8 175.8L895.0 177.6L897.5 175.8L900.6 175.8L903.1 178.9L906.8 179.5L909.3 177.0L911.2 172.0L913.7 165.8L916.2 161.4L920.0 158.2L923.1 153.2L925.6 148.2L927.5 142.0L929.3 135.8L930.6 128.2L932.5 120.8L934.3 114.5L936.2 109.5L938.7 108.2L940.6 109.5L942.5 107.0L943.5 107.0" stroke="#98191c" stroke-width="6.8"/>
<path class="fr" stroke-width="1.15" d="M614.50 71.50H943.00"/>
<path class="fr" stroke-width="1.1" d="M615.50 399.50H942.00"/>
<path class="fr" stroke-width="2" style="stroke:#1c1c1c" d="M942.00 72.00V400.00"/>
<path class="fr" stroke-width="2" d="M615.00 71.50V400.30"/>
<text transform="translate(595.90 76.68) scale(1.0 1.0)" font-size="15.0" text-anchor="end">21</text>
<text transform="translate(595.90 123.54) scale(1.0 1.0)" font-size="15.0" text-anchor="end">18</text>
<text transform="translate(595.90 170.40) scale(1.0 1.0)" font-size="15.0" text-anchor="end">15</text>
<text transform="translate(595.90 217.26) scale(1.0 1.0)" font-size="15.0" text-anchor="end">12</text>
<text transform="translate(595.90 264.12) scale(1.0 1.0)" font-size="15.0" text-anchor="end">9</text>
<text transform="translate(595.90 310.98) scale(1.0 1.0)" font-size="15.0" text-anchor="end">6</text>
<text transform="translate(595.90 357.84) scale(1.0 1.0)" font-size="15.0" text-anchor="end">3</text>
<text transform="translate(595.90 404.70) scale(1.0 1.0)" font-size="15.0" text-anchor="end">0</text>
<text transform="translate(961.00 76.68) scale(1.0 1.0)" font-size="15.0">990</text>
<text transform="translate(961.00 123.54) scale(1.0 1.0)" font-size="15.0">989</text>
<text transform="translate(961.00 170.40) scale(1.0 1.0)" font-size="15.0">988</text>
<text transform="translate(961.00 217.26) scale(1.0 1.0)" font-size="15.0">987</text>
<text transform="translate(961.00 264.12) scale(1.0 1.0)" font-size="15.0">986</text>
<text transform="translate(961.00 310.98) scale(1.0 1.0)" font-size="15.0">985</text>
<text transform="translate(961.00 357.84) scale(1.0 1.0)" font-size="15.0">984</text>
<text transform="translate(961.00 404.70) scale(1.0 1.0)" font-size="15.0">983</text>
<text transform="translate(615.50 429.40) scale(1.0 1.0)" font-size="15.0" text-anchor="middle">2355</text>
<text transform="translate(697.12 429.40) scale(1.0 1.0)" font-size="15.0" text-anchor="middle">0555</text>
<text transform="translate(778.75 429.40) scale(1.0 1.0)" font-size="15.0" text-anchor="middle">1155</text>
<text transform="translate(860.38 429.40) scale(1.0 1.0)" font-size="15.0" text-anchor="middle">1755</text>
<text transform="translate(942.00 429.40) scale(1.0 1.0)" font-size="15.0" text-anchor="middle">2355</text>
</g>
<g id="p3">
<path class="grid" d="M144.31 532.50V860.50M185.12 532.50V860.50M225.94 532.50V860.50M266.75 532.50V860.50M307.56 532.50V860.50M348.38 532.50V860.50M389.19 532.50V860.50M103.50 598.10H430.00M103.50 663.70H430.00M103.50 729.30H430.00M103.50 794.90H430.00"/>
<path class="tick" d="M103.50 532.50v-9M103.50 860.50v8.6M144.31 532.50v-9M144.31 860.50v8.6M185.12 532.50v-9M185.12 860.50v8.6M225.94 532.50v-9M225.94 860.50v8.6M266.75 532.50v-9M266.75 860.50v8.6M307.56 532.50v-9M307.56 860.50v8.6M348.38 532.50v-9M348.38 860.50v8.6M389.19 532.50v-9M389.19 860.50v8.6M430.00 532.50v-9M430.00 860.50v8.6M103.50 532.50h-9M103.50 598.10h-9M103.50 663.70h-9M103.50 729.30h-9M103.50 794.90h-9M103.50 860.50h-9M430.00 585.90h8.7M430.00 640.82h8.7M430.00 695.74h8.7M430.00 750.66h8.7M430.00 805.58h8.7M430.00 860.50h8.7"/>
<path class="mtick" d="M103.50 565.30h-4.6M103.50 630.90h-4.6M103.50 696.50h-4.6M103.50 762.10h-4.6M103.50 827.70h-4.6"/>
<path class="rtick" d="M430.00 846.77h4.6M430.00 833.04h4.6M430.00 819.31h4.6M430.00 791.85h4.6M430.00 778.12h4.6M430.00 764.39h4.6M430.00 736.93h4.6M430.00 723.20h4.6M430.00 709.47h4.6M430.00 682.01h4.6M430.00 668.28h4.6M430.00 654.55h4.6M430.00 627.09h4.6M430.00 613.36h4.6M430.00 599.63h4.6M430.00 572.17h4.6M430.00 558.44h4.6M430.00 544.71h4.6"/>
<path class="ln" d="M101.5 545.2L105.2 542.8L112.7 538.2L119.0 536.8L125.2 537.0L128.9 539.0L132.7 547.8L136.4 556.5L140.2 554.0L143.2 551.5L147.2 554.0L150.2 549.8L153.9 547.8L157.7 546.5L161.4 544.8L165.2 542.8L168.9 539.0L172.7 536.5L176.4 538.2L179.7 542.2L183.9 539.0L187.7 536.5L193.9 536.0L200.2 535.2L207.7 534.0L217.7 532.8L256.2 532.8L274.9 532.8L278.7 536.5L281.2 542.8L283.7 552.8L286.2 562.8L289.9 566.5L293.7 574.0L296.2 580.2L298.7 590.2L301.2 602.8L303.7 609.0L306.2 617.8L308.7 627.8L311.7 629.0L313.2 640.2L316.2 644.0L319.2 641.5L321.7 645.2L322.4 656.5L324.2 645.2L327.4 654.0L330.7 655.2L333.2 662.8L335.7 657.8L337.9 651.5L339.9 661.5L343.2 664.0L344.9 657.8L347.4 662.8L350.7 655.2L352.4 665.2L354.2 672.2L356.7 667.8L359.9 662.8L362.4 664.0L364.9 675.2L367.4 684.0L370.7 677.8L372.4 679.0L374.9 687.8L377.9 691.5L381.2 689.0L383.2 679.0L385.7 686.5L389.2 687.8L391.2 680.2L394.9 679.0L398.2 675.2L400.7 666.5L403.7 661.5L406.2 652.8L408.7 642.8L410.7 630.2L412.4 612.8L414.9 605.2L416.2 595.2L418.7 585.2L421.2 572.8L423.2 562.8L425.7 560.2L428.7 557.8L431.2 556.5" stroke="#8cc84b" stroke-width="5.3"/>
<path class="grid" opacity=".7" d="M144.31 532.50V860.50M185.12 532.50V860.50M225.94 532.50V860.50M266.75 532.50V860.50M307.56 532.50V860.50M348.38 532.50V860.50M389.19 532.50V860.50M103.50 598.10H430.00M103.50 663.70H430.00M103.50 729.30H430.00M103.50 794.90H430.00"/>
<path class="fr" stroke-width="1" d="M103.50 532.50H430.00"/>
<path class="fr" stroke-width="2" d="M102.50 860.50H431.00"/>
<path class="fr" stroke-width="2" style="stroke:#1c1c1c" d="M430.00 532.00V861.00"/>
<path class="fr" stroke-width="2" d="M103.00 531.50V861.30"/>
<g fill="#49b549"><circle cx="103.4" cy="860.4" r="6.5"/><circle cx="106.3" cy="854.3" r="6.5"/><circle cx="107.0" cy="845.2" r="6.5"/><circle cx="108.4" cy="830.3" r="6.5"/><circle cx="109.6" cy="824.5" r="6.5"/></g>
<path class="ln" d="M109.6 824.5L430.4 824.5" stroke="#49b549" stroke-width="13.1"/>
<text transform="translate(83.90 537.70) scale(1.0 1.0)" font-size="15.0" text-anchor="end">100</text>
<text transform="translate(83.90 603.30) scale(1.0 1.0)" font-size="15.0" text-anchor="end">80</text>
<text transform="translate(83.90 668.90) scale(1.0 1.0)" font-size="15.0" text-anchor="end">60</text>
<text transform="translate(83.90 734.50) scale(1.0 1.0)" font-size="15.0" text-anchor="end">40</text>
<text transform="translate(83.90 800.10) scale(1.0 1.0)" font-size="15.0" text-anchor="end">20</text>
<text transform="translate(83.90 865.70) scale(1.0 1.0)" font-size="15.0" text-anchor="end">0</text>
<text transform="translate(449.00 591.10) scale(1.0 1.0)" font-size="15.0">0.10</text>
<text transform="translate(449.00 646.02) scale(1.0 1.0)" font-size="15.0">0.08</text>
<text transform="translate(449.00 700.94) scale(1.0 1.0)" font-size="15.0">0.06</text>
<text transform="translate(449.00 755.86) scale(1.0 1.0)" font-size="15.0">0.04</text>
<text transform="translate(449.00 810.78) scale(1.0 1.0)" font-size="15.0">0.02</text>
<text transform="translate(449.00 865.70) scale(1.0 1.0)" font-size="15.0">0.00</text>
<text transform="translate(103.50 890.40) scale(1.0 1.0)" font-size="15.0" text-anchor="middle">2355</text>
<text transform="translate(185.12 890.40) scale(1.0 1.0)" font-size="15.0" text-anchor="middle">0555</text>
<text transform="translate(266.75 890.40) scale(1.0 1.0)" font-size="15.0" text-anchor="middle">1155</text>
<text transform="translate(348.38 890.40) scale(1.0 1.0)" font-size="15.0" text-anchor="middle">1755</text>
<text transform="translate(430.00 890.40) scale(1.0 1.0)" font-size="15.0" text-anchor="middle">2355</text>
</g>
<g id="p4">
<path class="grid" d="M656.31 532.50V860.50M697.12 532.50V860.50M737.94 532.50V860.50M778.75 532.50V860.50M819.56 532.50V860.50M860.38 532.50V860.50M901.19 532.50V860.50M615.50 614.50H942.00M615.50 696.50H942.00M615.50 778.50H942.00"/>
<path class="tick" d="M615.50 532.50v-9M615.50 860.50v8.6M656.31 532.50v-9M656.31 860.50v8.6M697.12 532.50v-9M697.12 860.50v8.6M737.94 532.50v-9M737.94 860.50v8.6M778.75 532.50v-9M778.75 860.50v8.6M819.56 532.50v-9M819.56 860.50v8.6M860.38 532.50v-9M860.38 860.50v8.6M901.19 532.50v-9M901.19 860.50v8.6M942.00 532.50v-9M942.00 860.50v8.6M615.50 532.50h-9M615.50 614.50h-9M615.50 696.50h-9M615.50 778.50h-9M615.50 860.50h-9M942.00 532.50h8.7M942.00 614.50h8.7M942.00 696.50h8.7M942.00 778.50h8.7M942.00 860.50h8.7"/>
<g fill="#b4e2f8"><circle cx="713.3" cy="538.5" r="3.8"/><circle cx="707.7" cy="543.5" r="3.8"/><circle cx="729.6" cy="541.2" r="3.8"/><circle cx="691.8" cy="549.4" r="3.8"/><circle cx="714.6" cy="551.6" r="3.8"/><circle cx="704.2" cy="556.6" r="3.8"/><circle cx="728.3" cy="580.2" r="3.8"/><circle cx="717.1" cy="596.0" r="3.8"/><circle cx="679.3" cy="605.0" r="3.8"/><circle cx="705.6" cy="614.0" r="3.8"/><circle cx="680.8" cy="621.0" r="3.8"/><circle cx="681.7" cy="623.1" r="3.8"/><circle cx="727.1" cy="629.8" r="3.8"/><circle cx="675.0" cy="586.0" r="3.8"/><circle cx="762.5" cy="546.2" r="3.8"/><circle cx="772.7" cy="547.1" r="3.8"/><circle cx="787.5" cy="549.6" r="3.8"/><circle cx="745.2" cy="558.5" r="3.8"/><circle cx="761.2" cy="568.1" r="3.8"/><circle cx="750.8" cy="576.2" r="3.8"/><circle cx="760.2" cy="580.0" r="3.8"/><circle cx="730.2" cy="580.2" r="3.8"/><circle cx="759.2" cy="590.2" r="3.8"/><circle cx="788.6" cy="587.2" r="3.8"/><circle cx="789.7" cy="595.9" r="3.8"/><circle cx="779.6" cy="598.1" r="3.8"/><circle cx="778.3" cy="601.6" r="3.8"/><circle cx="752.5" cy="606.0" r="3.8"/><circle cx="758.0" cy="605.2" r="3.8"/><circle cx="730.2" cy="630.0" r="3.8"/><circle cx="925.0" cy="538.1" r="3.8"/><circle cx="941.0" cy="536.5" r="3.8"/><circle cx="929.3" cy="543.8" r="3.8"/><circle cx="936.8" cy="545.6" r="3.8"/><circle cx="933.1" cy="554.0" r="3.8"/><circle cx="932.1" cy="566.9" r="3.8"/><circle cx="918.5" cy="571.6" r="3.8"/><circle cx="930.8" cy="573.8" r="3.8"/><circle cx="942.2" cy="576.5" r="3.8"/><circle cx="924.1" cy="583.1" r="3.8"/><circle cx="927.2" cy="591.2" r="3.8"/><circle cx="922.8" cy="602.1" r="3.8"/><circle cx="919.3" cy="610.2" r="3.8"/><circle cx="910.2" cy="620.2" r="3.8"/><circle cx="911.8" cy="623.5" r="3.8"/><circle cx="921.8" cy="622.1" r="3.8"/><circle cx="920.6" cy="641.0" r="3.8"/><circle cx="702.3" cy="657.5" r="3.8"/><circle cx="682.8" cy="667.9" r="3.8"/><circle cx="721.5" cy="669.1" r="3.8"/><circle cx="702.1" cy="668.8" r="3.8"/><circle cx="699.0" cy="696.2" r="3.8"/><circle cx="696.5" cy="703.8" r="3.8"/><circle cx="697.7" cy="706.9" r="3.8"/><circle cx="695.2" cy="713.1" r="3.8"/><circle cx="693.3" cy="716.2" r="3.8"/><circle cx="694.0" cy="721.2" r="3.8"/><circle cx="732.1" cy="725.6" r="3.8"/><circle cx="735.8" cy="728.1" r="3.8"/><circle cx="703.3" cy="753.1" r="3.8"/><circle cx="732.7" cy="753.4" r="3.8"/><circle cx="706.7" cy="763.1" r="3.8"/><circle cx="722.1" cy="690.0" r="3.8"/><circle cx="746.5" cy="669.1" r="3.8"/><circle cx="750.0" cy="670.0" r="3.8"/><circle cx="771.5" cy="669.8" r="3.8"/><circle cx="754.3" cy="680.6" r="3.8"/><circle cx="755.6" cy="683.5" r="3.8"/><circle cx="776.7" cy="680.9" r="3.8"/><circle cx="799.0" cy="684.4" r="3.8"/><circle cx="801.5" cy="688.8" r="3.8"/><circle cx="756.7" cy="694.0" r="3.8"/><circle cx="768.1" cy="691.9" r="3.8"/><circle cx="791.5" cy="697.8" r="3.8"/><circle cx="769.2" cy="700.0" r="3.8"/><circle cx="770.5" cy="703.5" r="3.8"/><circle cx="740.2" cy="707.2" r="3.8"/><circle cx="741.2" cy="714.8" r="3.8"/><circle cx="742.1" cy="721.6" r="3.8"/><circle cx="743.3" cy="730.4" r="3.8"/><circle cx="774.6" cy="717.9" r="3.8"/><circle cx="766.8" cy="721.2" r="3.8"/><circle cx="780.8" cy="720.2" r="3.8"/><circle cx="763.6" cy="739.1" r="3.8"/><circle cx="775.8" cy="738.1" r="3.8"/><circle cx="764.6" cy="749.0" r="3.8"/><circle cx="773.7" cy="747.9" r="3.8"/><circle cx="926.2" cy="673.1" r="3.8"/><circle cx="678.1" cy="794.1" r="3.8"/><circle cx="710.2" cy="801.8" r="3.8"/><circle cx="709.0" cy="816.6" r="3.8"/><circle cx="711.2" cy="827.1" r="3.8"/><circle cx="730.6" cy="860.2" r="3.8"/><circle cx="765.8" cy="799.0" r="3.8"/><circle cx="747.7" cy="831.2" r="3.8"/><circle cx="748.7" cy="842.8" r="3.8"/><circle cx="744.2" cy="860.2" r="3.8"/><circle cx="939.2" cy="821.8" r="3.8"/><circle cx="938.0" cy="837.2" r="3.8"/><circle cx="937.2" cy="852.8" r="3.8"/></g>
<g fill="#7cb9e4"><circle cx="715.8" cy="556.5" r="3.8"/><circle cx="660.0" cy="576.2" r="3.8"/><circle cx="661.5" cy="582.9" r="3.8"/><circle cx="669.0" cy="581.9" r="3.8"/><circle cx="676.1" cy="581.6" r="3.8"/><circle cx="617.1" cy="591.0" r="3.8"/><circle cx="654.0" cy="591.9" r="3.8"/><circle cx="651.5" cy="597.5" r="3.8"/><circle cx="672.7" cy="591.9" r="3.8"/><circle cx="677.5" cy="593.5" r="3.8"/><circle cx="667.7" cy="598.1" r="3.8"/><circle cx="666.5" cy="599.4" r="3.8"/><circle cx="690.8" cy="600.6" r="3.8"/><circle cx="630.5" cy="602.8" r="3.8"/><circle cx="615.5" cy="603.5" r="3.8"/><circle cx="618.3" cy="608.8" r="3.8"/><circle cx="673.7" cy="615.0" r="3.8"/><circle cx="639.0" cy="616.9" r="3.8"/><circle cx="639.6" cy="620.0" r="3.8"/><circle cx="628.3" cy="627.5" r="3.8"/><circle cx="614.6" cy="638.8" r="3.8"/><circle cx="634.0" cy="650.4" r="3.8"/><circle cx="686.7" cy="649.0" r="3.8"/><circle cx="690.2" cy="649.0" r="3.8"/><circle cx="718.0" cy="651.9" r="3.8"/><circle cx="658.3" cy="599.4" r="3.8"/><circle cx="816.7" cy="534.0" r="3.8"/><circle cx="829.6" cy="556.9" r="3.8"/><circle cx="802.3" cy="574.6" r="3.8"/><circle cx="804.6" cy="585.0" r="3.8"/><circle cx="805.8" cy="591.9" r="3.8"/><circle cx="808.3" cy="592.5" r="3.8"/><circle cx="803.1" cy="597.5" r="3.8"/><circle cx="790.8" cy="624.6" r="3.8"/><circle cx="928.7" cy="540.4" r="3.8"/><circle cx="932.5" cy="543.1" r="3.8"/><circle cx="935.0" cy="544.4" r="3.8"/><circle cx="864.1" cy="559.8" r="3.8"/><circle cx="878.1" cy="576.2" r="3.8"/><circle cx="875.0" cy="577.5" r="3.8"/><circle cx="903.7" cy="576.9" r="3.8"/><circle cx="912.7" cy="574.8" r="3.8"/><circle cx="865.0" cy="592.1" r="3.8"/><circle cx="905.0" cy="585.0" r="3.8"/><circle cx="907.5" cy="587.5" r="3.8"/><circle cx="916.8" cy="584.8" r="3.8"/><circle cx="915.6" cy="588.1" r="3.8"/><circle cx="913.7" cy="591.2" r="3.8"/><circle cx="906.2" cy="592.5" r="3.8"/><circle cx="883.1" cy="591.2" r="3.8"/><circle cx="876.8" cy="593.8" r="3.8"/><circle cx="881.2" cy="595.0" r="3.8"/><circle cx="879.3" cy="600.0" r="3.8"/><circle cx="887.5" cy="603.8" r="3.8"/><circle cx="886.0" cy="608.1" r="3.8"/><circle cx="884.0" cy="613.1" r="3.8"/><circle cx="897.5" cy="605.0" r="3.8"/><circle cx="902.5" cy="601.2" r="3.8"/><circle cx="906.8" cy="612.5" r="3.8"/><circle cx="894.3" cy="616.2" r="3.8"/><circle cx="890.0" cy="618.8" r="3.8"/><circle cx="888.7" cy="623.1" r="3.8"/><circle cx="909.3" cy="639.8" r="3.8"/><circle cx="627.1" cy="665.4" r="3.8"/><circle cx="635.2" cy="670.4" r="3.8"/><circle cx="631.7" cy="674.4" r="3.8"/><circle cx="623.6" cy="675.6" r="3.8"/><circle cx="700.0" cy="669.6" r="3.8"/><circle cx="684.6" cy="678.5" r="3.8"/><circle cx="685.8" cy="681.2" r="3.8"/><circle cx="688.7" cy="685.6" r="3.8"/><circle cx="719.2" cy="681.9" r="3.8"/><circle cx="720.5" cy="685.0" r="3.8"/><circle cx="734.3" cy="685.0" r="3.8"/><circle cx="724.0" cy="692.5" r="3.8"/><circle cx="725.8" cy="698.8" r="3.8"/><circle cx="625.0" cy="688.1" r="3.8"/><circle cx="636.1" cy="687.9" r="3.8"/><circle cx="619.6" cy="691.2" r="3.8"/><circle cx="625.8" cy="691.9" r="3.8"/><circle cx="622.7" cy="693.1" r="3.8"/><circle cx="621.2" cy="698.8" r="3.8"/><circle cx="629.2" cy="709.4" r="3.8"/><circle cx="737.1" cy="707.8" r="3.8"/><circle cx="782.1" cy="683.1" r="3.8"/><circle cx="783.0" cy="692.8" r="3.8"/><circle cx="799.0" cy="693.8" r="3.8"/><circle cx="796.5" cy="695.0" r="3.8"/><circle cx="784.6" cy="701.0" r="3.8"/><circle cx="785.8" cy="703.5" r="3.8"/><circle cx="792.7" cy="701.2" r="3.8"/><circle cx="796.5" cy="702.5" r="3.8"/><circle cx="794.6" cy="705.0" r="3.8"/><circle cx="795.5" cy="707.8" r="3.8"/><circle cx="885.3" cy="665.2" r="3.8"/><circle cx="712.5" cy="856.9" r="3.8"/><circle cx="823.0" cy="841.2" r="3.8"/></g>
<g fill="#4a8fc9"><circle cx="670.3" cy="569.1" r="3.8"/><circle cx="671.5" cy="576.9" r="3.8"/><circle cx="644.6" cy="582.5" r="3.8"/><circle cx="651.5" cy="583.8" r="3.8"/><circle cx="654.6" cy="583.8" r="3.8"/><circle cx="663.7" cy="590.2" r="3.8"/><circle cx="665.2" cy="591.2" r="3.8"/><circle cx="643.0" cy="603.5" r="3.8"/><circle cx="642.1" cy="607.5" r="3.8"/><circle cx="650.8" cy="604.4" r="3.8"/><circle cx="656.7" cy="601.0" r="3.8"/><circle cx="640.6" cy="614.4" r="3.8"/><circle cx="818.3" cy="537.5" r="3.8"/><circle cx="822.1" cy="538.1" r="3.8"/><circle cx="842.7" cy="538.4" r="3.8"/><circle cx="837.5" cy="546.2" r="3.8"/><circle cx="812.5" cy="552.5" r="3.8"/><circle cx="849.0" cy="558.5" r="3.8"/><circle cx="811.2" cy="565.6" r="3.8"/><circle cx="810.0" cy="568.1" r="3.8"/><circle cx="815.8" cy="567.5" r="3.8"/><circle cx="838.6" cy="575.2" r="3.8"/><circle cx="844.3" cy="589.0" r="3.8"/><circle cx="809.0" cy="598.1" r="3.8"/><circle cx="856.5" cy="548.8" r="3.8"/><circle cx="863.1" cy="536.0" r="3.8"/><circle cx="870.6" cy="550.9" r="3.8"/><circle cx="866.2" cy="569.0" r="3.8"/><circle cx="871.8" cy="571.9" r="3.8"/><circle cx="868.7" cy="574.4" r="3.8"/><circle cx="866.8" cy="578.8" r="3.8"/><circle cx="869.3" cy="582.5" r="3.8"/><circle cx="874.1" cy="584.4" r="3.8"/><circle cx="897.8" cy="583.1" r="3.8"/><circle cx="898.7" cy="592.5" r="3.8"/><circle cx="893.3" cy="604.4" r="3.8"/><circle cx="900.6" cy="601.9" r="3.8"/><circle cx="892.1" cy="623.5" r="3.8"/><circle cx="632.7" cy="658.8" r="3.8"/><circle cx="637.5" cy="659.4" r="3.8"/><circle cx="620.2" cy="704.0" r="3.8"/><circle cx="895.6" cy="689.1" r="3.8"/><circle cx="830.8" cy="820.0" r="3.8"/><circle cx="842.1" cy="835.6" r="3.8"/><circle cx="833.0" cy="840.9" r="3.8"/><circle cx="821.8" cy="845.6" r="3.8"/><circle cx="831.5" cy="848.4" r="3.8"/><circle cx="835.2" cy="848.1" r="3.8"/><circle cx="840.8" cy="849.8" r="3.8"/><circle cx="819.2" cy="854.1" r="3.8"/></g>
<g fill="#4aa76b"><circle cx="645.0" cy="584.8" r="3.8"/><circle cx="826.1" cy="534.8" r="3.8"/><circle cx="813.7" cy="541.0" r="3.8"/><circle cx="827.1" cy="541.2" r="3.8"/><circle cx="828.3" cy="544.8" r="3.8"/><circle cx="846.7" cy="535.0" r="3.8"/><circle cx="849.6" cy="538.1" r="3.8"/><circle cx="852.1" cy="540.6" r="3.8"/><circle cx="854.6" cy="543.8" r="3.8"/><circle cx="857.1" cy="545.0" r="3.8"/><circle cx="847.7" cy="554.8" r="3.8"/><circle cx="839.8" cy="559.0" r="3.8"/><circle cx="814.8" cy="577.9" r="3.8"/><circle cx="857.7" cy="566.2" r="3.8"/><circle cx="861.8" cy="539.8" r="3.8"/><circle cx="860.2" cy="566.2" r="3.8"/><circle cx="845.5" cy="848.4" r="3.8"/><circle cx="836.5" cy="855.6" r="3.8"/><circle cx="825.0" cy="858.5" r="3.8"/></g>
<g fill="#7cc344"><circle cx="647.5" cy="586.9" r="3.8"/></g>
<path class="grid" opacity=".7" d="M656.31 532.50V860.50M697.12 532.50V860.50M737.94 532.50V860.50M778.75 532.50V860.50M819.56 532.50V860.50M860.38 532.50V860.50M901.19 532.50V860.50M615.50 614.50H942.00M615.50 696.50H942.00M615.50 778.50H942.00"/>
<path class="fr" stroke-width="1" d="M615.50 532.50H942.00"/>
<path class="fr" stroke-width="2" d="M614.50 860.50H943.00"/>
<path class="fr" stroke-width="2" style="stroke:#1c1c1c" d="M942.00 532.00V861.00"/>
<path class="fr" stroke-width="2" d="M615.00 531.50V861.30"/>
<text transform="translate(596.60 537.70) scale(1.0 1.0)" font-size="15.0" text-anchor="end">N</text>
<text transform="translate(596.60 619.70) scale(1.0 1.0)" font-size="15.0" text-anchor="end">W</text>
<text transform="translate(596.60 701.70) scale(1.0 1.0)" font-size="15.0" text-anchor="end">S</text>
<text transform="translate(596.60 783.70) scale(1.0 1.0)" font-size="15.0" text-anchor="end">E</text>
<text transform="translate(596.60 865.70) scale(1.0 1.0)" font-size="15.0" text-anchor="end">N</text>
<text transform="translate(615.50 890.40) scale(1.0 1.0)" font-size="15.0" text-anchor="middle">2355</text>
<text transform="translate(697.12 890.40) scale(1.0 1.0)" font-size="15.0" text-anchor="middle">0555</text>
<text transform="translate(778.75 890.40) scale(1.0 1.0)" font-size="15.0" text-anchor="middle">1155</text>
<text transform="translate(860.38 890.40) scale(1.0 1.0)" font-size="15.0" text-anchor="middle">1755</text>
<text transform="translate(942.00 890.40) scale(1.0 1.0)" font-size="15.0" text-anchor="middle">2355</text>
</g>
<text transform="translate(266.50 53.10) scale(1.0 1.04)" font-size="25.3" text-anchor="middle">Temperature (F) &amp; Insolation (W/m<tspan font-size="16.5" dy="-9.3">2</tspan><tspan dy="9.3">)</tspan></text>
<text transform="translate(778.60 45.10) scale(1.0 1.04)" font-size="25.3" text-anchor="middle">Winds (mph) &amp; Pressure (mb)</text>
<text transform="translate(265.90 511.20) scale(1.0 1.04)" font-size="25.3" text-anchor="middle">Relative Humidity (%) &amp; Precipitation (in)</text>
<text transform="translate(779.10 505.80) scale(1.0 1.04)" font-size="25.3" text-anchor="middle">Wind Direction</text>
<text transform="translate(266.80 457.50) scale(1.0 1.04)" font-size="21" text-anchor="middle">Time (UTC)</text>
<text transform="translate(778.80 457.50) scale(1.0 1.04)" font-size="21" text-anchor="middle">Time (UTC)</text>
<text transform="translate(42.10 234.00) rotate(-90) scale(1.0 1.04)" font-size="13.9" text-anchor="middle">2m T, T<tspan font-size="9" dy="3">d</tspan><tspan dy="-3">, HI/WC (Red, Green, Scarlet/Blue)</tspan></text>
<text transform="translate(56.70 244.40) rotate(-90) scale(1.0 1.04)" font-size="13.9" text-anchor="middle">&amp; 9m T (Orange)</text>
<text transform="translate(501.70 235.50) rotate(-90) scale(1.0 1.07)" font-size="20.9" text-anchor="middle">Solar Insolation (Yellow)</text>
<text transform="translate(566.00 236.00) rotate(-90) scale(1.0 1.04)" font-size="18.3" text-anchor="middle">Sonic Wind &amp; Gust (Blue, Black)</text>
<text transform="translate(1013.70 235.50) rotate(-90) scale(1.0 1.07)" font-size="21.1" text-anchor="middle">Station Pressure (Maroon)</text>
<text transform="translate(43.30 697.20) rotate(-90) scale(1.0 1.04)" font-size="21.1" text-anchor="middle">Percent &amp; Precipitation</text>
<text transform="translate(566.80 697.00) rotate(-90) scale(1.0 1.04)" font-size="18.2" text-anchor="middle">Direction (Colored By Speed)</text>
<g shape-rendering="crispEdges">
<rect x="953" y="594" width="30" height="20" fill="#90151a"/>
<rect x="953" y="614" width="30" height="21" fill="#b81c24"/>
<rect x="953" y="635" width="30" height="20" fill="#d9302a"/>
<rect x="953" y="655" width="30" height="21" fill="#f0632b"/>
<rect x="953" y="676" width="30" height="20" fill="#f7a643"/>
<rect x="953" y="696" width="30" height="21" fill="#e9e05b"/>
<rect x="953" y="717" width="30" height="20" fill="#7cc145"/>
<rect x="953" y="737" width="30" height="21" fill="#46a269"/>
<rect x="953" y="758" width="30" height="20" fill="#4a8cc7"/>
<rect x="953" y="778" width="30" height="21" fill="#7ebae4"/>
<rect x="953" y="799" width="30" height="20" fill="#b9e3f8"/>
</g>
<text transform="translate(1007.70 610.00) scale(1.0 1.0)" font-size="17" text-anchor="middle">20+</text>
<text transform="translate(1007.70 630.50) scale(1.0 1.0)" font-size="17" text-anchor="middle">18</text>
<text transform="translate(1007.70 651.00) scale(1.0 1.0)" font-size="17" text-anchor="middle">16</text>
<text transform="translate(1007.70 671.50) scale(1.0 1.0)" font-size="17" text-anchor="middle">14</text>
<text transform="translate(1007.70 692.00) scale(1.0 1.0)" font-size="17" text-anchor="middle">12</text>
<text transform="translate(1007.70 712.50) scale(1.0 1.0)" font-size="17" text-anchor="middle">10</text>
<text transform="translate(1007.70 733.00) scale(1.0 1.0)" font-size="17" text-anchor="middle">8</text>
<text transform="translate(1007.70 753.50) scale(1.0 1.0)" font-size="17" text-anchor="middle">6</text>
<text transform="translate(1007.70 774.00) scale(1.0 1.0)" font-size="17" text-anchor="middle">4</text>
<text transform="translate(1007.70 794.50) scale(1.0 1.0)" font-size="17" text-anchor="middle">2</text>
<text transform="translate(1007.70 815.00) scale(1.0 1.0)" font-size="17" text-anchor="middle">0</text>
<text transform="translate(1008.00 587.90) scale(1.0 1.0)" font-size="17" text-anchor="middle">mph</text>
<text transform="translate(19.60 922.30) scale(1.0 1.04)" font-size="16.95">Location: Brewster</text>
<text transform="translate(19.60 942.30) scale(1.0 1.04)" font-size="16.95">Station elevation: 185.349 m</text>
<text transform="translate(19.60 962.30) scale(1.0 1.04)" font-size="16.95">Station lat/lon: 41.4399; -73.5764</text>
<text transform="translate(19.60 982.30) scale(1.0 1.04)" font-size="16.95">Figure created on Fri, 2025-09-26, at 23:59 UTC</text>
<text transform="translate(19.60 1002.30) scale(1.0 1.04)" font-size="16.95">Most recent data timestamp: 2025/09/26 23:55:00</text>
<text transform="translate(1004.30 933.30) scale(1.0 1.04)" font-size="18.3" text-anchor="end">Extremes For Past 24 Hours</text>
<text transform="translate(1004.30 957.30) scale(1.0 1.04)" font-size="18.3" text-anchor="end">(High/Low/Max Wind/Precipitation/Snow Depth)</text>
<text transform="translate(1004.30 981.80) scale(1.0 1.04)" font-size="18.25" text-anchor="end" font-weight="bold" style="fill:#b9202a">79.1/59.9/8.2/0.01/-999</text>
<text transform="translate(1004.30 1002.50) scale(1.0 1.04)" font-size="16.9" text-anchor="end">Max Gust: 19.9 mph On 09/26 at 0220 UTC</text>
<text transform="translate(512.00 1019.30) scale(1.0 1.04)" font-size="14.0" text-anchor="middle" style="fill:#8c8c8c">Created By Nick Bassill Using Data Provided By The NYS Mesonet</text>
</svg></body></html>
